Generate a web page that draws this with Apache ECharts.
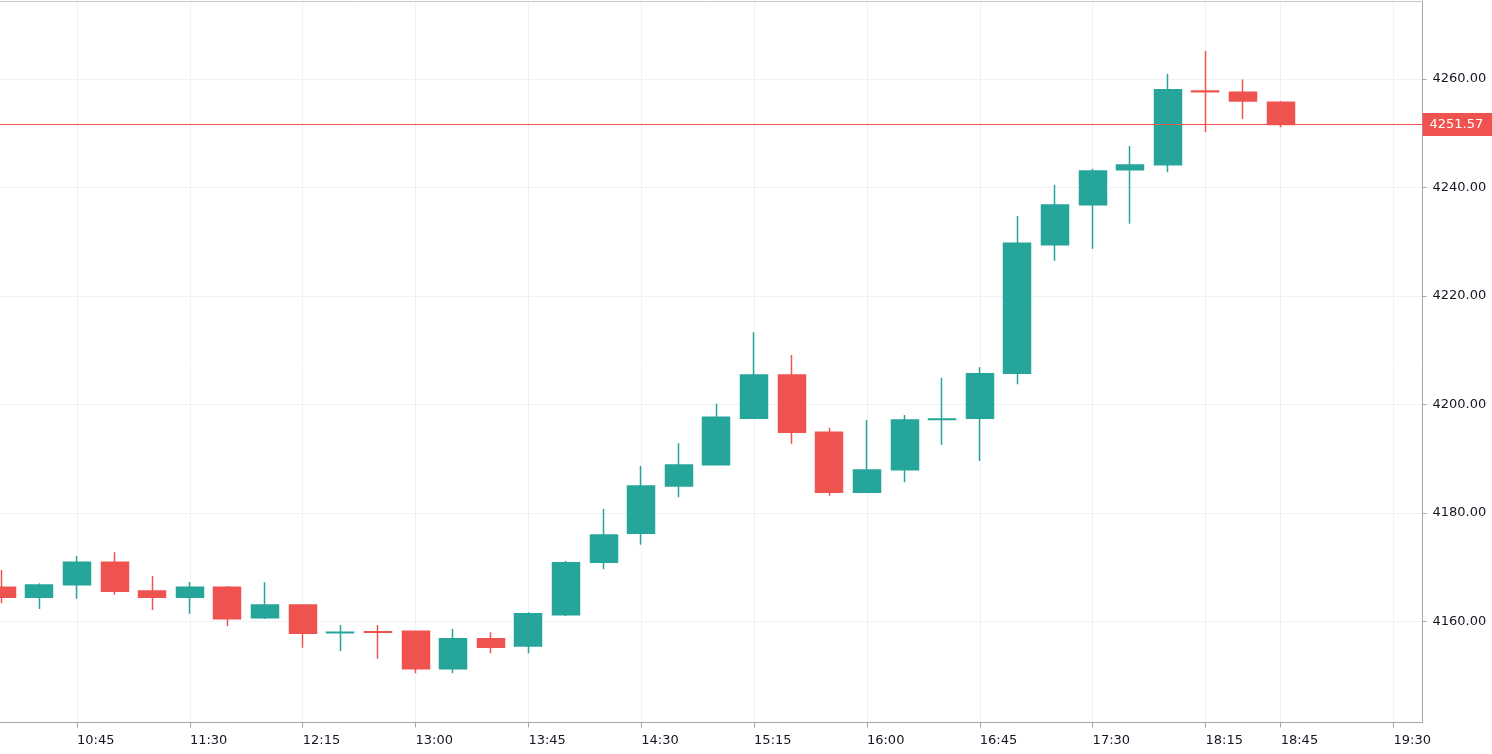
<!DOCTYPE html>
<html>
<head>
<meta charset="utf-8">
<script src="https://cdn.jsdelivr.net/npm/echarts@6/dist/echarts.min.js"></script>
<style>
html,body{margin:0;padding:0;background:#ffffff;}
#chart{width:1492px;height:754px;}
</style>
</head>
<body>
<div id="chart"></div>
<script>
// ---- data ----
const times = ['10:15','10:30','10:45','11:00','11:15','11:30','11:45','12:00','12:15','12:30',
  '12:45','13:00','13:15','13:30','13:45','14:00','14:15','14:30','14:45','15:00',
  '15:15','15:30','15:45','16:00','16:15','16:30','16:45','17:00','17:15','17:30',
  '17:45','18:00','18:15','18:30','18:45','19:00','19:15','19:30'];

const openP  = [4166.27,4164.42,4166.75,4170.88,4165.59,4164.42,4166.27,4160.66,4163.00,4157.90,
  4158.10,4158.16,4151.26,4156.79,4155.45,4161.22,4170.88,4176.22,4184.94,4188.87,
  4197.42,4205.40,4194.84,4183.78,4187.94,4197.20,4197.42,4205.71,4229.42,4236.79,
  4243.24,4244.17,4257.75,4257.51,4255.67];
const closeP = [4164.42,4166.69,4170.88,4165.53,4164.42,4166.27,4160.48,4163.00,4157.79,4158.00,
  4158.00,4151.26,4156.79,4155.21,4161.40,4170.80,4175.91,4184.94,4188.81,4197.60,
  4205.40,4194.84,4183.78,4187.89,4197.11,4197.30,4205.64,4229.68,4236.74,4243.00,
  4244.11,4258.00,4257.60,4255.90,4251.57];
const lowP   = [4163.32,4162.27,4164.17,4164.90,4162.08,4161.40,4159.08,4160.42,4155.13,4154.53,
  4153.11,4150.41,4150.41,4154.10,4154.10,4160.98,4169.59,4174.12,4182.86,4188.87,
  4197.42,4192.74,4183.15,4183.78,4185.62,4192.50,4189.55,4203.69,4226.47,4228.68,
  4233.29,4242.77,4250.14,4252.57,4251.06];
const highP  = [4169.46,4167.00,4172.04,4172.72,4168.35,4167.24,4166.51,4167.19,4163.00,4159.32,
  4159.32,4158.16,4158.64,4157.97,4161.66,4171.12,4180.76,4188.63,4192.81,4200.11,
  4213.27,4209.09,4195.69,4197.11,4198.03,4204.90,4206.82,4234.71,4240.42,4243.43,
  4247.61,4260.94,4265.12,4259.89,4255.90];

const xTickLabels = ['10:45','11:30','12:15','13:00','13:45','14:30','15:15','16:00','16:45','17:30','18:15','18:45','19:30'];
const yTickValues = [4160,4180,4200,4220,4240,4260];

// ---- build ----
const UP = '#26a69a', DOWN = '#ef5350';
const FONT = 'DejaVu Sans';
const TEXT = '#131722';
const AXIS = '#a3a6ae';
const candles = openP.map((o, i) => [i, o, closeP[i], lowP[i], highP[i]]);
const lastClose = closeP[closeP.length - 1];
const xTickIdx = xTickLabels.map(t => times.indexOf(t));

const xMin = -0.048, xMax = 37.77;

const chart = echarts.init(document.getElementById('chart'), null, {renderer: 'canvas'});
chart.setOption({
  animation: false,
  backgroundColor: '#ffffff',
  grid: {left: 0, top: 1, width: 1422.5, height: 721.5, containLabel: false},
  xAxis: [{
    type: 'value',
    min: xMin, max: xMax,
    position: 'bottom',
    axisLine: {show: true, onZero: false, lineStyle: {color: AXIS, width: 1}},
    axisTick: {show: true, length: 5, lineStyle: {color: AXIS}, customValues: xTickIdx},
    axisLabel: {
      show: true, customValues: xTickIdx, align: 'left', margin: 12,
      color: TEXT, fontSize: 13, fontFamily: FONT,
      formatter: v => times[Math.round(v)]
    },
    splitLine: {show: true, lineStyle: {color: '#f0f1f4', width: 1}}
  }, {
    type: 'value',
    min: xMin, max: xMax,
    position: 'top',
    axisLine: {show: true, onZero: false, lineStyle: {color: '#c4c6cc', width: 1}},
    axisTick: {show: false},
    axisLabel: {show: false},
    splitLine: {show: false}
  }],
  yAxis: {
    type: 'value',
    position: 'right',
    min: 4141.35, max: 4274.34,
    axisLine: {show: true, onZero: false, lineStyle: {color: AXIS, width: 1}},
    axisTick: {show: true, length: 4, lineStyle: {color: AXIS}, customValues: yTickValues},
    axisLabel: {
      show: true, customValues: yTickValues, margin: 10,
      color: TEXT, fontSize: 13, fontFamily: FONT,
      formatter: v => Number(v).toFixed(2)
    },
    splitLine: {show: true, lineStyle: {color: '#f0f1f4', width: 1}}
  },
  series: [{
    type: 'candlestick',
    xAxisIndex: 0,
    data: candles,
    encode: {x: 0, y: [1, 2, 3, 4]},
    barWidth: 27.5,
    itemStyle: {color: UP, color0: DOWN, borderColor: UP, borderColor0: DOWN, borderWidth: 1.5},
    emphasis: {disabled: true},
    markLine: {
      silent: true,
      symbol: ['none', 'none'],
      animation: false,
      lineStyle: {color: DOWN, type: 'solid', width: 1},
      label: {
        show: true, position: 'end', distance: 0,
        formatter: () => lastClose.toFixed(2),
        color: '#ffffff', backgroundColor: DOWN,
        padding: [5, 10, 5, 7], fontSize: 13, fontFamily: FONT
      },
      emphasis: {disabled: true},
      data: [{yAxis: lastClose}]
    }
  }]
});
</script>
</body>
</html>
